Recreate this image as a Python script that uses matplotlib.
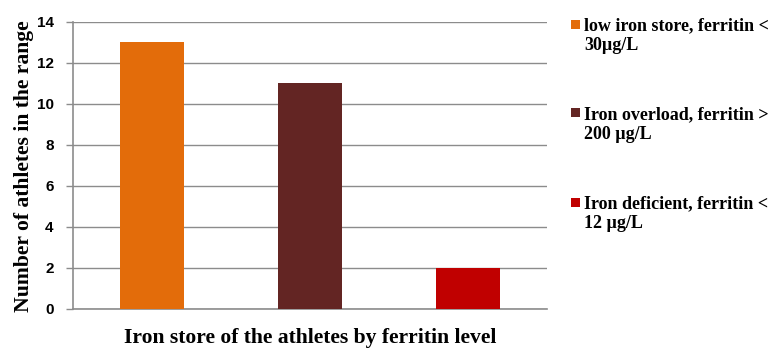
import matplotlib
matplotlib.use("Agg")
import matplotlib.pyplot as plt
from matplotlib.patches import Rectangle
import numpy as np

categories = ["low iron store, ferritin <\n30\u00b5g/L",
              "Iron overload, ferritin >\n200 \u00b5g/L",
              "Iron deficient, ferritin <\n12 \u00b5g/L"]
values = [13, 11, 2]
colors = ["#E36C0A", "#632523", "#C00000"]
yticks = [0, 2, 4, 6, 8, 10, 12, 14]

W, H = 774, 350
fig = plt.figure(figsize=(W/100, H/100), dpi=100)
ax = fig.add_axes([73/W, 1-308.5/H, 474/W, (308.5-21.7)/H])
x = np.arange(len(values))
bars = ax.bar(x, values, width=0.405, color=colors, zorder=3, label=categories)
ax.set_xlim(-0.5, 2.5)
ax.set_ylim(0, 14)
ax.set_yticks(yticks)
ax.set_xticks([])
ax.yaxis.grid(True, color="#8C8C8C", linewidth=1.0, zorder=0)
for s in ["top", "right"]:
    ax.spines[s].set_visible(False)
for s in ["left", "bottom"]:
    ax.spines[s].set_color("#8C8C8C")
    ax.spines[s].set_linewidth(1.2)
ax.tick_params(axis="y", length=5, color="#8C8C8C", width=1.0, pad=9)
for lab in ax.get_yticklabels():
    lab.set_fontfamily("Liberation Sans")
    lab.set_fontweight("bold")
    lab.set_fontsize(11)

serif = "Liberation Serif"
ax.set_xlabel("Iron store of the athletes by ferritin level", fontfamily=serif,
              fontweight="bold", fontsize=15.6, labelpad=14)
ax.set_ylabel("Number of athletes in the range", fontfamily=serif,
              fontweight="bold", fontsize=15.6, labelpad=1.5)
ax.yaxis.label.set_y(0.495)

# legend (manual layout to match reference)
for i, (lab, col) in enumerate(zip(categories, colors)):
    top = 17 + i * 89
    fig.patches.append(Rectangle((571/W, 1-(top+11.5)/H), 9/W, 9/H,
                                 transform=fig.transFigure, facecolor=col,
                                 edgecolor="none"))
    fig.text(584/W, 1-top/H, lab, ha="left", va="top", fontfamily=serif,
             fontweight="bold", fontsize=13, linespacing=1.22)

fig.savefig("out.png", dpi=100)
